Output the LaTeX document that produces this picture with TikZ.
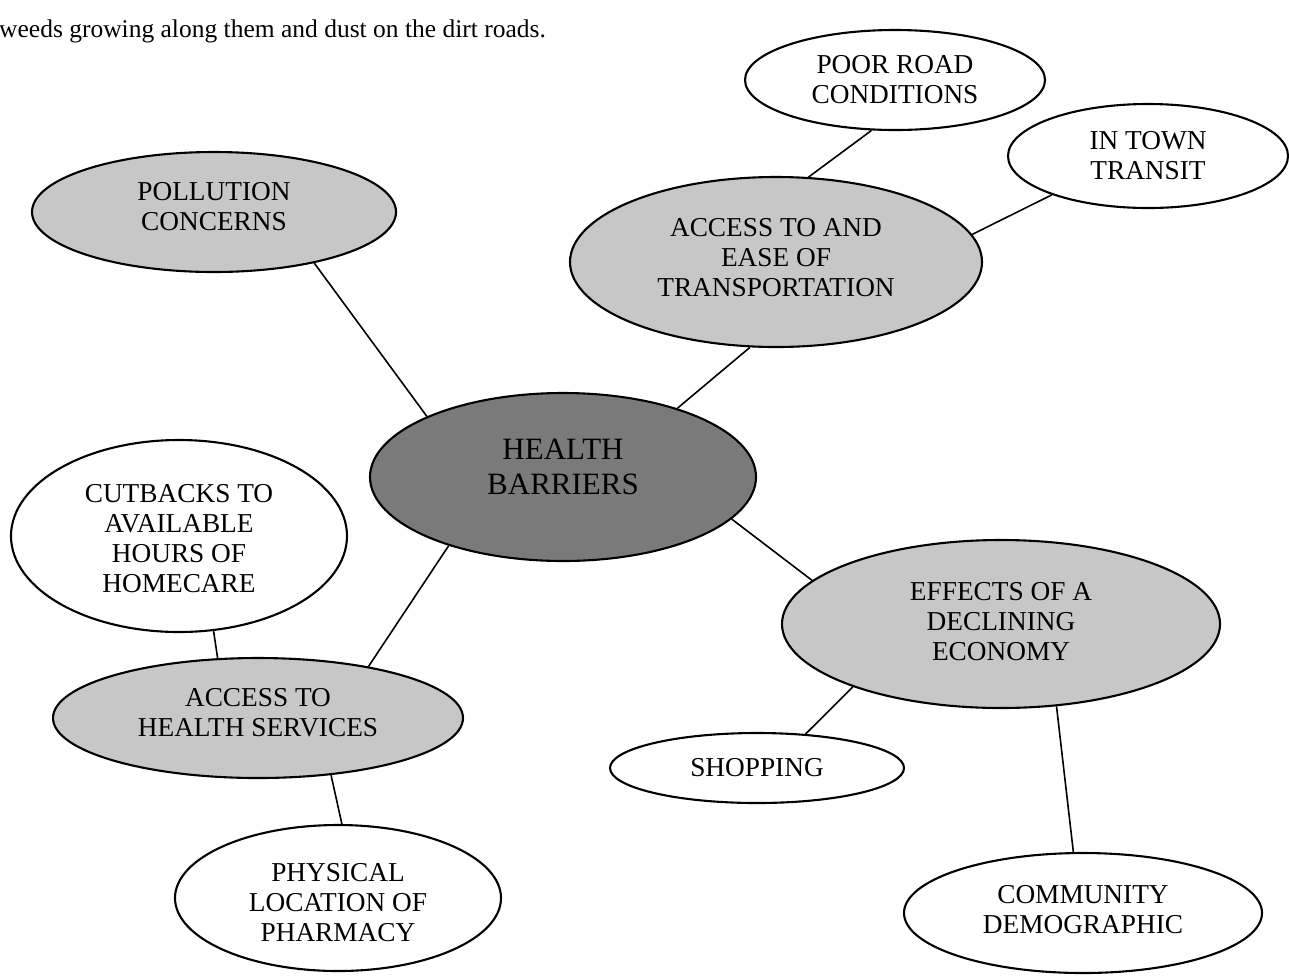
\documentclass[tikz,border=0pt]{standalone}
\usepackage{fontspec}
\setmainfont{Liberation Serif}
\usetikzlibrary{shapes.geometric}
\begin{document}
\begin{tikzpicture}[x=1pt,y=-1pt,
  bubble/.style={ellipse, draw=black, line width=2.1pt, inner sep=0pt},
  plain/.style={bubble, fill=white},
  shaded/.style={bubble, fill=black!22},
  hub/.style={bubble, fill=black!52},
  txt/.style={align=center, inner sep=0pt, font=\fontsize{27.3}{30}\selectfont},
  hubtxt/.style={align=center, inner sep=0pt, font=\fontsize{31}{35}\selectfont},
  link/.style={line width=1.6pt}]
\fill[white] (0,0) rectangle (1289,978);
\useasboundingbox (0,0) rectangle (1289,978);

% running text above the map
\node[anchor=base west, inner sep=0pt, font=\fontsize{25.5}{30}\selectfont]
  (intro) at (-1,37) {weeds growing along them and dust on the dirt roads.};

% central topic
\node[hub, minimum width=386pt, minimum height=168pt,
  label={[hubtxt, yshift=10pt]center:{HEALTH\\BARRIERS}}] (hb) at (563,477) {};

% main branches
\node[shaded, minimum width=364pt, minimum height=120pt,
  label={[txt, yshift=5pt]center:{POLLUTION\\CONCERNS}}] (pol) at (214,212) {};
\node[shaded, minimum width=412pt, minimum height=170pt,
  label={[txt, yshift=4pt]center:{ACCESS TO AND\\EASE OF\\TRANSPORTATION}}] (trans) at (776,262) {};
\node[shaded, minimum width=438pt, minimum height=168pt,
  label={[txt, yshift=2pt]center:{EFFECTS OF A\\DECLINING\\ECONOMY}}] (econ) at (1001,624) {};
\node[shaded, minimum width=410pt, minimum height=120pt,
  label={[txt, yshift=5pt]center:{ACCESS TO\\HEALTH SERVICES}}] (hs) at (258,718) {};

% sub-branches
\node[plain, minimum width=300pt, minimum height=100pt,
  label={[txt]center:{POOR ROAD\\CONDITIONS}}] (road) at (895,80) {};
\node[plain, minimum width=280pt, minimum height=104pt,
  label={[txt]center:{IN TOWN\\TRANSIT}}] (transit) at (1148,156) {};
\node[plain, minimum width=336pt, minimum height=192pt,
  label={[txt, yshift=-3pt]center:{CUTBACKS TO\\AVAILABLE\\HOURS OF\\HOMECARE}}] (cut) at (179,536) {};
\node[plain, minimum width=294pt, minimum height=70pt,
  label={[txt]center:{SHOPPING}}] (shop) at (757,768) {};
\node[plain, minimum width=326pt, minimum height=146pt,
  label={[txt, yshift=-5pt]center:{PHYSICAL\\LOCATION OF\\PHARMACY}}] (pharm) at (338,898) {};
\node[plain, minimum width=358pt, minimum height=120pt,
  label={[txt, yshift=3pt]center:{COMMUNITY\\DEMOGRAPHIC}}] (comm) at (1083,913) {};

% connectors
\draw[link] (pol.-27.5) -- (hb.156.5);
\draw[link] (trans.-107) -- (hb.31.9);
\draw[link] (road.-115) -- (trans.69.7);
\draw[link] (transit.-158) -- (trans.8.4);
\draw[link] (hb.-14.9) -- (econ.167);
\draw[link] (econ.-157) -- (shop.35);
\draw[link] (econ.-56) -- (comm.99.5);
\draw[link] (hb.-149) -- (hs.25);
\draw[link] (cut.-70.5) -- (hs.124);
\draw[link] (hs.-38.6) -- (pharm.87);
\end{tikzpicture}
\end{document}
